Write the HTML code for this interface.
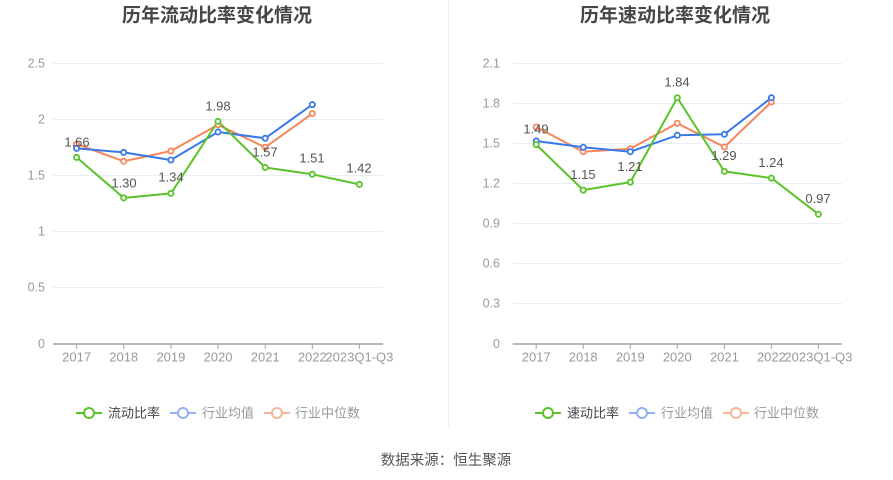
<!DOCTYPE html>
<html><head><meta charset="utf-8"><style>
html,body{margin:0;padding:0;background:#fff;}
svg{display:block;font-family:"Liberation Sans","Noto Sans CJK SC",sans-serif;}
</style></head><body>
<svg width="893" height="480" viewBox="0 0 893 480" xmlns="http://www.w3.org/2000/svg">
<rect width="893" height="480" fill="#fff"/>
<line x1="448.5" y1="0" x2="448.5" y2="427" stroke="#eeeeee" stroke-width="1"/>

<!-- LEFT CHART -->
<text x="217" y="21.5" text-anchor="middle" font-size="19" font-weight="bold" fill="#464646">历年流动比率变化情况</text>
<g stroke="#e9edf5" stroke-width="1">
<line x1="53" y1="63.5" x2="383" y2="63.5"/>
<line x1="53" y1="119.5" x2="383" y2="119.5"/>
<line x1="53" y1="175.5" x2="383" y2="175.5"/>
<line x1="53" y1="231.5" x2="383" y2="231.5"/>
<line x1="53" y1="287.5" x2="383" y2="287.5"/>
</g>
<line x1="53" y1="344" x2="383" y2="344" stroke="#9ea3ab" stroke-width="1.5"/>
<g stroke="#9ea3ab" stroke-width="1">
<line x1="76.6" y1="344" x2="76.6" y2="349"/><line x1="123.7" y1="344" x2="123.7" y2="349"/>
<line x1="170.9" y1="344" x2="170.9" y2="349"/><line x1="218" y1="344" x2="218" y2="349"/>
<line x1="265.2" y1="344" x2="265.2" y2="349"/><line x1="312.3" y1="344" x2="312.3" y2="349"/>
<line x1="359.4" y1="344" x2="359.4" y2="349"/>
</g>
<g font-size="12.5" fill="#9a9a9a" text-anchor="end">
<text x="45" y="67.5">2.5</text><text x="45" y="123.5">2</text><text x="45" y="179.5">1.5</text>
<text x="45" y="235.5">1</text><text x="45" y="291.5">0.5</text><text x="45" y="348">0</text>
</g>
<g font-size="13" fill="#9a9a9a" text-anchor="middle">
<text x="76.6" y="361.5">2017</text><text x="123.7" y="361.5">2018</text><text x="170.9" y="361.5">2019</text>
<text x="218" y="361.5">2020</text><text x="265.2" y="361.5">2021</text><text x="312.3" y="361.5">2022</text>
<text x="359.4" y="361.5">2023Q1-Q3</text>
</g>
<g fill="none" stroke-width="2" stroke-linejoin="round">
<polyline stroke="#f7875a" points="76.6,144 123.7,161.3 170.9,151 218,124.8 265.2,147.3 312.3,113.6"/>
<polyline stroke="#3b78e7" points="76.6,148.4 123.7,152.4 170.9,160 218,132 265.2,138.3 312.3,104.6"/>
<polyline stroke="#5ac32a" points="76.6,157.4 123.7,197.9 170.9,193.4 218,121.4 265.2,167.5 312.3,174.3 359.4,184.4"/>
</g>
<g fill="#fff" stroke-width="1.8">
<g stroke="#f7875a"><circle cx="76.6" cy="144" r="2.6"/><circle cx="123.7" cy="161.3" r="2.6"/><circle cx="170.9" cy="151" r="2.6"/><circle cx="218" cy="124.8" r="2.6"/><circle cx="265.2" cy="147.3" r="2.6"/><circle cx="312.3" cy="113.6" r="2.6"/></g>
<g stroke="#3b78e7"><circle cx="76.6" cy="148.4" r="2.6"/><circle cx="123.7" cy="152.4" r="2.6"/><circle cx="170.9" cy="160" r="2.6"/><circle cx="218" cy="132" r="2.6"/><circle cx="265.2" cy="138.3" r="2.6"/><circle cx="312.3" cy="104.6" r="2.6"/></g>
<g stroke="#5ac32a"><circle cx="76.6" cy="157.4" r="2.6"/><circle cx="123.7" cy="197.9" r="2.6"/><circle cx="170.9" cy="193.4" r="2.6"/><circle cx="218" cy="121.4" r="2.6"/><circle cx="265.2" cy="167.5" r="2.6"/><circle cx="312.3" cy="174.3" r="2.6"/><circle cx="359.4" cy="184.4" r="2.6"/></g>
</g>
<g font-size="13" fill="#555" text-anchor="middle">
<text x="77" y="146.5">1.66</text><text x="124" y="187.5">1.30</text><text x="171" y="181.5">1.34</text>
<text x="218" y="110.5">1.98</text><text x="265" y="156.5">1.57</text><text x="312" y="162.5">1.51</text>
<text x="359" y="172.5">1.42</text>
</g>
<!-- left legend -->
<g stroke-width="2" fill="#fff">
<line x1="76" y1="413" x2="102" y2="413" stroke="#5ac32a"/><circle cx="89" cy="413" r="5" stroke="#5ac32a"/>
<line x1="170" y1="413" x2="196" y2="413" stroke="#91b2f1"/><circle cx="183" cy="413" r="5" stroke="#91b2f1"/>
<line x1="264" y1="413" x2="290" y2="413" stroke="#f9b59b"/><circle cx="277" cy="413" r="5" stroke="#f9b59b"/>
</g>
<g font-size="13">
<text x="108" y="417.5" fill="#444">流动比率</text>
<text x="202" y="417.5" fill="#999">行业均值</text>
<text x="295" y="417.5" fill="#999">行业中位数</text>
</g>

<!-- RIGHT CHART -->
<text x="675" y="21.5" text-anchor="middle" font-size="19" font-weight="bold" fill="#464646">历年速动比率变化情况</text>
<g stroke="#e9edf5" stroke-width="1">
<line x1="512.7" y1="63.5" x2="842" y2="63.5"/>
<line x1="512.7" y1="103.5" x2="842" y2="103.5"/>
<line x1="512.7" y1="143.5" x2="842" y2="143.5"/>
<line x1="512.7" y1="183.5" x2="842" y2="183.5"/>
<line x1="512.7" y1="223.5" x2="842" y2="223.5"/>
<line x1="512.7" y1="263.5" x2="842" y2="263.5"/>
<line x1="512.7" y1="303.5" x2="842" y2="303.5"/>
</g>
<line x1="512.7" y1="344" x2="842" y2="344" stroke="#9ea3ab" stroke-width="1.5"/>
<g stroke="#9ea3ab" stroke-width="1">
<line x1="536.2" y1="344" x2="536.2" y2="349"/><line x1="583.2" y1="344" x2="583.2" y2="349"/>
<line x1="630.3" y1="344" x2="630.3" y2="349"/><line x1="677.3" y1="344" x2="677.3" y2="349"/>
<line x1="724.4" y1="344" x2="724.4" y2="349"/><line x1="771.4" y1="344" x2="771.4" y2="349"/>
<line x1="818.4" y1="344" x2="818.4" y2="349"/>
</g>
<g font-size="12.5" fill="#9a9a9a" text-anchor="end">
<text x="500" y="67.5">2.1</text><text x="500" y="107.5">1.8</text><text x="500" y="147.5">1.5</text>
<text x="500" y="187.5">1.2</text><text x="500" y="227.5">0.9</text><text x="500" y="267.5">0.6</text>
<text x="500" y="307.5">0.3</text><text x="500" y="348">0</text>
</g>
<g font-size="13" fill="#9a9a9a" text-anchor="middle">
<text x="536.2" y="361.5">2017</text><text x="583.2" y="361.5">2018</text><text x="630.3" y="361.5">2019</text>
<text x="677.3" y="361.5">2020</text><text x="724.4" y="361.5">2021</text><text x="771.4" y="361.5">2022</text>
<text x="818.4" y="361.5">2023Q1-Q3</text>
</g>
<g fill="none" stroke-width="2" stroke-linejoin="round">
<polyline stroke="#f7875a" points="536.2,127 583.2,151.7 630.3,148.7 677.3,123.3 724.4,147 771.4,102"/>
<polyline stroke="#3b78e7" points="536.2,141 583.2,147.3 630.3,151.7 677.3,135.3 724.4,134.3 771.4,97.7"/>
<polyline stroke="#5ac32a" points="536.2,144.6 583.2,190.1 630.3,182.1 677.3,97.8 724.4,171.4 771.4,178.1 818.4,214.2"/>
</g>
<g fill="#fff" stroke-width="1.8">
<g stroke="#f7875a"><circle cx="536.2" cy="127" r="2.6"/><circle cx="583.2" cy="151.7" r="2.6"/><circle cx="630.3" cy="148.7" r="2.6"/><circle cx="677.3" cy="123.3" r="2.6"/><circle cx="724.4" cy="147" r="2.6"/><circle cx="771.4" cy="102" r="2.6"/></g>
<g stroke="#3b78e7"><circle cx="536.2" cy="141" r="2.6"/><circle cx="583.2" cy="147.3" r="2.6"/><circle cx="630.3" cy="151.7" r="2.6"/><circle cx="677.3" cy="135.3" r="2.6"/><circle cx="724.4" cy="134.3" r="2.6"/><circle cx="771.4" cy="97.7" r="2.6"/></g>
<g stroke="#5ac32a"><circle cx="536.2" cy="144.6" r="2.6"/><circle cx="583.2" cy="190.1" r="2.6"/><circle cx="630.3" cy="182.1" r="2.6"/><circle cx="677.3" cy="97.8" r="2.6"/><circle cx="724.4" cy="171.4" r="2.6"/><circle cx="771.4" cy="178.1" r="2.6"/><circle cx="818.4" cy="214.2" r="2.6"/></g>
</g>
<g font-size="13" fill="#555" text-anchor="middle">
<text x="536" y="133.5">1.49</text><text x="583" y="179">1.15</text><text x="630" y="171">1.21</text>
<text x="677" y="86.5">1.84</text><text x="724" y="160">1.29</text><text x="771" y="167">1.24</text>
<text x="818" y="203">0.97</text>
</g>
<!-- right legend -->
<g stroke-width="2" fill="#fff">
<line x1="535" y1="413" x2="561" y2="413" stroke="#5ac32a"/><circle cx="548" cy="413" r="5" stroke="#5ac32a"/>
<line x1="629" y1="413" x2="655" y2="413" stroke="#91b2f1"/><circle cx="642" cy="413" r="5" stroke="#91b2f1"/>
<line x1="723" y1="413" x2="749" y2="413" stroke="#f9b59b"/><circle cx="736" cy="413" r="5" stroke="#f9b59b"/>
</g>
<g font-size="13">
<text x="567" y="417.5" fill="#444">速动比率</text>
<text x="661" y="417.5" fill="#999">行业均值</text>
<text x="754" y="417.5" fill="#999">行业中位数</text>
</g>

<text x="446" y="465" text-anchor="middle" font-size="14.5" fill="#555">数据来源：恒生聚源</text>
</svg>
</body></html>
